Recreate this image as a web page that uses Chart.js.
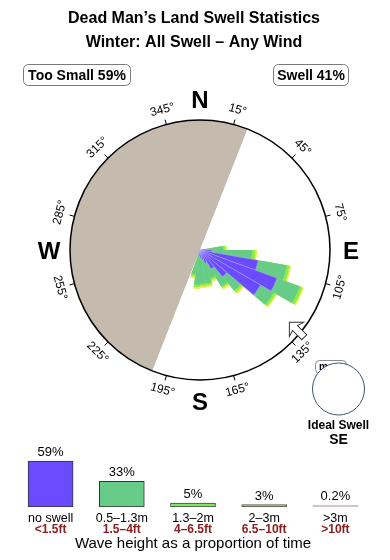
<!DOCTYPE html>
<html>
<head>
<meta charset="utf-8">
<script src="https://cdn.jsdelivr.net/npm/chart.js@4"></script>
<style>
html, body { margin: 0; padding: 0; background: #fff; }
#wrap { position: relative; width: 390px; height: 560px; overflow: hidden; }
canvas { position: absolute; left: 0; top: 0; }
</style>
</head>
<body>
<div id="wrap">
<canvas id="sector" width="390" height="560"></canvas>
<canvas id="bars" width="390" height="160" style="top:400px"></canvas>
<canvas id="rose" width="390" height="560"></canvas>
</div>
<script>
const titleLines = ['Dead Man’s Land Swell Statistics', 'Winter: All Swell – Any Wind'];
const summaryLabels = ['Too Small', 'Swell'];
const summaryValues = [59, 41];

// shaded "too small" half of the dial (bearing where it starts, spans in degrees)
const sectorLabels = ['Too small', 'Swell'];
const sectorStart = 201.5;
const sectorSpan = [180, 180];

// 10 degree direction bins, clockwise from north
const dirLabels = ['0–10°', '10–20°', '20–30°', '30–40°', '40–50°', '50–60°', '60–70°', '70–80°', '80–90°',
  '90–100°', '100–110°', '110–120°', '120–130°', '130–140°', '140–150°', '150–160°', '160–170°', '170–180°',
  '180–190°', '190–200°', '200–210°', '210–220°', '220–230°', '230–240°', '240–250°', '250–260°', '260–270°',
  '270–280°', '280–290°', '290–300°', '300–310°', '310–320°', '320–330°', '330–340°', '340–350°', '350–360°'];
// petal band thickness per bin (relative units, dial rim = 13)
const bandBlue   = [0, 0, 0, 0, 0, 0, 0, 0, 0.6, 1.2, 5.9, 8.2, 7.0, 3.5, 2.2, 1.4, 1.0, 0.8, 0.6, 0.5, 0, 0, 0, 0, 0, 0, 0, 0, 0, 0, 0, 0, 0, 0, 0, 0];
const bandGreen  = [0, 0, 0, 0, 0, 0, 0, 0, 1.7, 4.0, 2.9, 2.4, 1.5, 1.8, 2.0, 1.6, 2.4, 2.6, 2.9, 2.0, 0, 0, 0, 0, 0, 0, 0, 0, 0, 0, 0, 0, 0, 0, 0, 0];
const bandLime   = [0, 0, 0, 0, 0, 0, 0, 0, 0.2, 0.3, 0.3, 0.3, 0.25, 0.25, 0.2, 0.2, 0.2, 0.2, 0.2, 0.2, 0, 0, 0, 0, 0, 0, 0, 0, 0, 0, 0, 0, 0, 0, 0, 0];
const bandYellow = [0, 0, 0, 0, 0, 0, 0, 0, 0.2, 0.2, 0.15, 0.15, 0.15, 0.2, 0.2, 0.2, 0.2, 0.2, 0.2, 0.2, 0, 0, 0, 0, 0, 0, 0, 0, 0, 0, 0, 0, 0, 0, 0, 0];

const compassLabels = ['N', 'E', 'S', 'W'];
const compassBearings = [0, 90, 180, 270];
const degreeTicks = [15, 45, 75, 105, 135, 165, 195, 225, 255, 285, 315, 345];
const idealLabel = 'Ideal Swell';
const idealDir = 'SE';
const idealBearing = 135;

// wave height legend
const heightLabels = ['no swell', '0.5–1.3m', '1.3–2m', '2–3m', '>3m'];
const heightFeet = ['<1.5ft', '1.5–4ft', '4–6.5ft', '6.5–10ft', '>10ft'];
const heightShare = [59, 33, 5, 3, 0.2];
const captionText = 'Wave height as a proportion of time';

const FONT = '"Liberation Sans", Arial, Helvetica, sans-serif';
const bandColors = ['#6a4bff', '#66cc88', '#88ee4c', '#e8ee44'];

// stack the bands so each ring reaches the sum of the ones inside it
const bands = [bandBlue, bandGreen, bandLime, bandYellow];
const reach = bands.map((b, k) => dirLabels.map((_, i) => bands.slice(0, k + 1).reduce((s, a) => s + a[i], 0)));

const pad = { left: 70, right: 60, top: 120, bottom: 180 };

new Chart(document.getElementById('sector'), {
  type: 'pie',
  data: {
    labels: sectorLabels,
    datasets: [{ data: sectorSpan, backgroundColor: ['#c4baae', '#ffffff'], borderWidth: 0 }]
  },
  options: {
    responsive: false,
    animation: false,
    rotation: sectorStart,
    layout: { padding: pad },
    plugins: { legend: { display: false }, tooltip: { enabled: false } }
  }
});

const at = (cx, cy, d, b) => {
  const a = b * Math.PI / 180;
  return [cx + d * Math.sin(a), cy - d * Math.cos(a)];
};

const roundBox = (ctx, x, y, w, h, rr) => {
  ctx.beginPath();
  ctx.roundRect(x, y, w, h, rr);
  ctx.fill();
  ctx.stroke();
};

const roseDecor = {
  id: 'roseDecor',
  afterDraw(chart) {
    const ctx = chart.ctx;
    const sc = chart.scales.r;
    const cx = sc.xCenter, cy = sc.yCenter, R = sc.drawingArea;
    ctx.save();
    ctx.fillStyle = '#000';
    ctx.textAlign = 'center';
    ctx.textBaseline = 'alphabetic';

    // titles
    ctx.font = 'bold 16px ' + FONT;
    ctx.fillText(titleLines[0], 194, 23);
    ctx.fillText(titleLines[1], 194, 47);

    // summary boxes
    ctx.font = 'bold 14px ' + FONT;
    ctx.strokeStyle = '#7a7a7a';
    ctx.lineWidth = 1;
    const boxes = [[23.5, 107], [273.5, 75]];
    summaryLabels.forEach((lab, i) => {
      const [bx, bw] = boxes[i];
      ctx.fillStyle = '#fff';
      roundBox(ctx, bx, 64.5, bw, 21, 5);
      ctx.fillStyle = '#000';
      ctx.fillText(lab + ' ' + summaryValues[i] + '%', bx + bw / 2, 80);
    });

    // dial rim
    ctx.beginPath();
    ctx.arc(cx, cy, R, 0, Math.PI * 2);
    ctx.strokeStyle = '#000';
    ctx.lineWidth = 1.5;
    ctx.stroke();

    // degree ticks and labels
    ctx.lineWidth = 1;
    ctx.font = '12px ' + FONT;
    ctx.textBaseline = 'middle';
    degreeTicks.forEach(b => {
      const [x1, y1] = at(cx, cy, R, b);
      const [x2, y2] = at(cx, cy, R + 5, b);
      ctx.beginPath();
      ctx.moveTo(x1, y1);
      ctx.lineTo(x2, y2);
      ctx.stroke();
      const [tx, ty] = at(cx, cy, R + 15, b);
      const rot = (b > 90 && b < 270) ? b - 180 : (b >= 270 ? b - 360 : b);
      ctx.save();
      ctx.translate(tx, ty);
      ctx.rotate(rot * Math.PI / 180);
      ctx.fillText(b + '°', 0, 0);
      ctx.restore();
    });

    // compass letters
    ctx.textBaseline = 'alphabetic';
    ctx.font = 'bold 24px ' + FONT;
    compassLabels.forEach((lab, i) => {
      const [x, y] = at(cx, cy, R + 21, compassBearings[i]);
      ctx.fillText(lab, x, y + 8.5);
    });

    // ideal direction arrow on the rim, pointing inwards
    ctx.save();
    const [ax, ay] = at(cx, cy, R - 15, idealBearing - 6);
    ctx.translate(ax, ay);
    ctx.rotate(idealBearing * Math.PI / 180);
    ctx.beginPath();
    ctx.moveTo(0, 0);
    ctx.lineTo(10, -10);
    ctx.lineTo(3.5, -8);
    ctx.lineTo(3.5, -21);
    ctx.lineTo(-3.5, -21);
    ctx.lineTo(-3.5, -8);
    ctx.lineTo(-10, -10);
    ctx.closePath();
    ctx.fillStyle = '#fff';
    ctx.fill();
    ctx.strokeStyle = '#333';
    ctx.lineWidth = 1;
    ctx.stroke();
    ctx.restore();

    // ideal swell badge
    ctx.fillStyle = '#fff';
    ctx.strokeStyle = '#8a8a8a';
    roundBox(ctx, 315.5, 360.5, 31, 13, 4);
    ctx.fillStyle = '#000';
    ctx.font = 'bold 10px ' + FONT;
    ctx.textAlign = 'left';
    ctx.fillText('msw', 319, 370);
    ctx.beginPath();
    ctx.arc(338.5, 389, 26, 0, Math.PI * 2);
    ctx.fillStyle = '#fff';
    ctx.fill();
    ctx.strokeStyle = '#3f5470';
    ctx.stroke();
    ctx.textAlign = 'center';
    ctx.fillStyle = '#000';
    ctx.font = 'bold 12px ' + FONT;
    ctx.fillText(idealLabel, 338.5, 429);
    ctx.font = 'bold 14px ' + FONT;
    ctx.fillText(idealDir, 338.5, 444);
    ctx.restore();
  }
};

new Chart(document.getElementById('rose'), {
  type: 'polarArea',
  data: {
    labels: dirLabels,
    datasets: reach.map((vals, k) => ({
      data: vals,
      backgroundColor: bandColors[k],
      borderWidth: k === 0 ? 0.6 : 0,
      borderColor: 'rgba(190,180,255,0.7)'
    }))
  },
  options: {
    responsive: false,
    animation: false,
    layout: { padding: pad },
    scales: {
      r: {
        min: 0,
        max: 13,
        startAngle: 0,
        ticks: { display: false },
        grid: { display: false },
        angleLines: { display: false },
        pointLabels: { display: false }
      }
    },
    plugins: { legend: { display: false }, tooltip: { enabled: false } }
  },
  plugins: [roseDecor]
});

const barDecor = {
  id: 'barDecor',
  afterDraw(chart) {
    const ctx = chart.ctx;
    const area = chart.chartArea;
    const meta = chart.getDatasetMeta(0);
    ctx.save();
    ctx.textAlign = 'center';
    meta.data.forEach((bar, i) => {
      ctx.fillStyle = '#000';
      ctx.font = '13px ' + FONT;
      ctx.fillText(heightShare[i] + '%', bar.x, bar.y - 5);
      ctx.font = '12.5px ' + FONT;
      ctx.fillText(heightLabels[i], bar.x, area.bottom + 15);
      ctx.fillStyle = '#8b1c1c';
      ctx.font = 'bold 12px ' + FONT;
      ctx.fillText(heightFeet[i], bar.x, area.bottom + 26);
    });
    ctx.fillStyle = '#000';
    ctx.font = '15px ' + FONT;
    ctx.fillText(captionText, (area.left + area.right) / 2, area.bottom + 41);
    ctx.restore();
  }
};

new Chart(document.getElementById('bars'), {
  type: 'bar',
  data: {
    labels: heightLabels,
    datasets: [{
      data: heightShare,
      backgroundColor: ['#6a4bff', '#66cc88', '#7dea5c', '#b8c23c', '#c9bcb6'],
      borderColor: ['#333', '#333', '#444', '#555', '#c9bcb6'],
      borderWidth: 1,
      borderSkipped: false,
      barThickness: 45,
      minBarLength: 2
    }]
  },
  options: {
    responsive: false,
    animation: false,
    layout: { padding: { left: 15, right: 19, top: 29, bottom: 53 } },
    scales: {
      x: { display: false },
      y: { display: false, min: 0, max: 100 }
    },
    plugins: { legend: { display: false }, tooltip: { enabled: false } }
  },
  plugins: [barDecor]
});
</script>
</body>
</html>
